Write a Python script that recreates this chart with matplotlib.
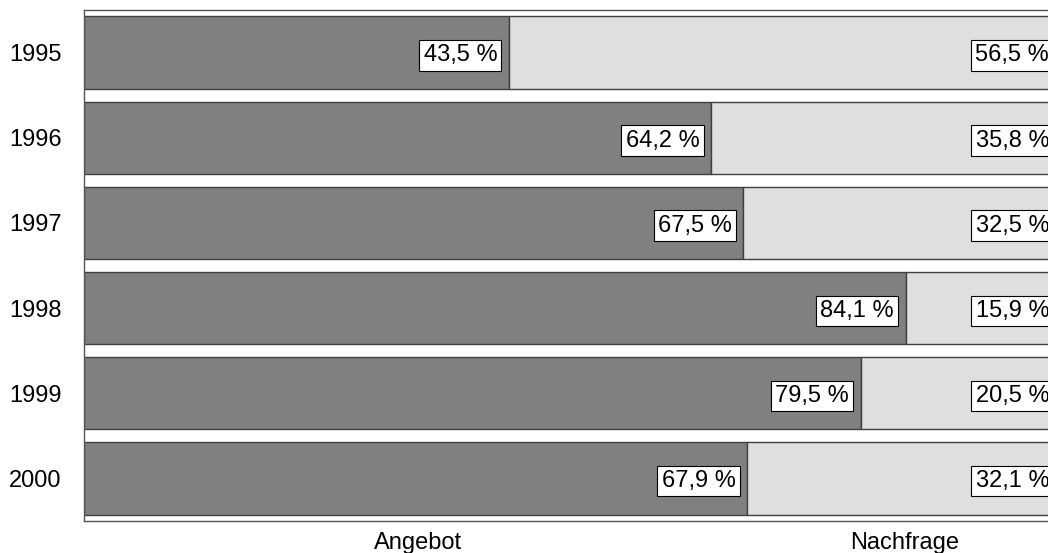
import matplotlib
matplotlib.use('Agg')
import matplotlib.pyplot as plt

years = ['1995', '1996', '1997', '1998', '1999', '2000']
angebot = [43.5, 64.2, 67.5, 84.1, 79.5, 67.9]
nachfrage = [56.5, 35.8, 32.5, 15.9, 20.5, 32.1]
series_names = ['Angebot', 'Nachfrage']

plt.rcParams['font.family'] = ['Liberation Sans', 'DejaVu Sans']
FS = 17

W, H = 1048, 553
fig = plt.figure(figsize=(W / 100, H / 100), dpi=100)
# axes runs past the right edge of the figure, as in the reference
ax = fig.add_axes([84 / W, 1 - 521 / H, (1061 - 84) / W, (521 - 10) / H])

ypos = list(range(len(years)))
edge = '#404040'
ax.barh(ypos, angebot, height=0.85, color='#808080', edgecolor=edge, linewidth=1)
ax.barh(ypos, nachfrage, left=angebot, height=0.85, color='#dfdfdf', edgecolor=edge, linewidth=1)

box = dict(boxstyle='square,pad=0.18', facecolor='white', edgecolor='black', linewidth=0.8)
for y, a, n in zip(ypos, angebot, nachfrage):
    for xr, v in ((a, a), (a + n, n)):
        ax.annotate(f'{v:.1f} %'.replace('.', ','), xy=(xr, y), xytext=(-8.5, -2),
                    textcoords='offset points', ha='right', va='center',
                    fontsize=FS, bbox=box)

ax.set_xlim(0, 100)
ax.set_ylim(len(years) - 0.5, -0.5)
ax.set_yticks(ypos)
ax.set_yticklabels(years, fontsize=FS)
ax.tick_params(axis='y', length=0, pad=16)
ax.set_xticks([])
for s in ax.spines.values():
    s.set_color('#555555')
    s.set_linewidth(1)

fig.text(418 / W, 1 - 543 / H, series_names[0], ha='center', va='center', fontsize=FS)
fig.text(905 / W, 1 - 543 / H, series_names[1], ha='center', va='center', fontsize=FS)

fig.savefig('out.png', dpi=100)
